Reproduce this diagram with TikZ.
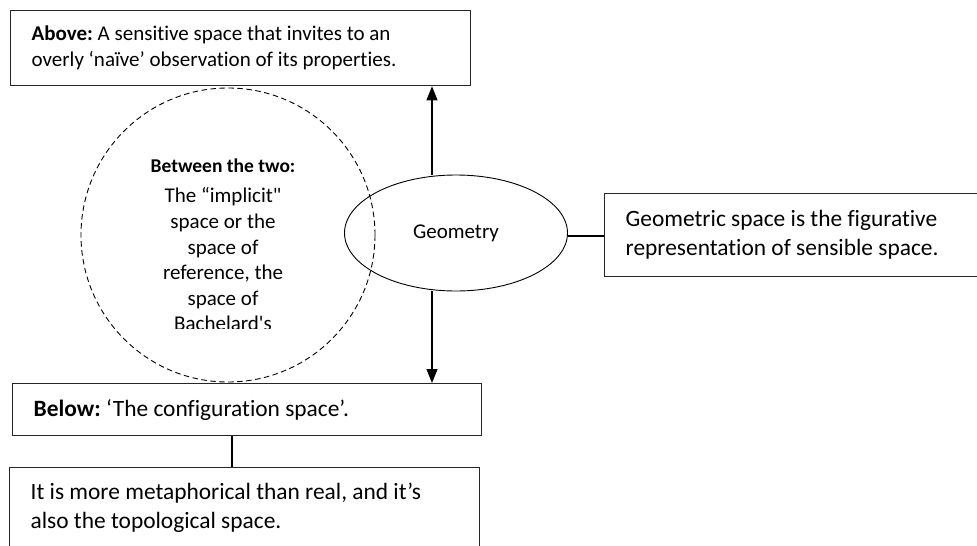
\documentclass[tikz,border=0pt]{standalone}
\usepackage{fontspec}
\setmainfont{Carlito}[Ligatures=NoCommon]
\frenchspacing
\usetikzlibrary{positioning,arrows.meta,shapes.geometric}

\begin{document}
\begin{tikzpicture}[
    x=1pt, y=-1pt,
    font=\fontsize{21}{26}\selectfont,
    note/.style ={draw=black!85, line width=1.3pt, align=flush left, inner xsep=21pt, inner ysep=0pt, anchor=north west},
    bignote/.style ={note, font=\fontsize{23.4}{29}\selectfont},
    orb/.style  ={draw, ellipse, line width=0.9pt, minimum width=223pt, minimum height=116pt, inner sep=0pt},
    halo/.style ={draw, circle, dash pattern=on 5.5pt off 3.5pt, line width=0.9pt, minimum size=294pt, inner sep=0pt},
    up/.style   ={-{Triangle[length=14pt,width=11pt]}, line width=1.2pt},
    tie/.style  ={line width=2pt},
  ]
  \useasboundingbox (0,0) rectangle (977,546);
  % boxes above, right and below
  \node[note, text width=418pt, minimum height=75pt] (above) at (10,10)
    {\textbf{Above:} A sensitive space that invites to an\\overly ‘naïve’ observation of its properties.};
  \node[bignote, text width=334pt, minimum height=83pt] (sense) at (604,193)
    {Geometric space is the figurative\\representation of sensible space.};
  \node[bignote, text width=427pt, minimum height=52pt] (below) at (12,383)
    {\textbf{Below:} ‘The configuration space’.};
  \node[bignote, text width=428pt, minimum height=80pt] (real) at (9,467)
    {It is more metaphorical than real, and it’s\\also the topological space.};
  % dashed circle and its (cut off) text
  \node[halo] (between) at (228,235) {};
  \begin{scope}
    \clip (60,140) rectangle (400,328);
    \node[align=center, anchor=north, font=\fontsize{21}{25.6}\selectfont] (betweentext) at (223,155)
      {{\fontsize{19.5}{24}\selectfont\textbf{Between the two:}}\\[5pt]
       The “implicit\textquotedbl\\space or the\\space of\\reference, the\\space of\\Bachelard\textquotesingle s};
  \end{scope}
  \node[orb] (geo) at (456,233) {Geometry};
  % connectors
  \coordinate (stem) at (432,0);
  \coordinate (drop) at (232,0);
  \draw[up] (geo.north -| stem) -- (above.south -| stem);
  \draw[up] (geo.south -| stem) -- (below.north -| stem);
  \draw[tie] ([yshift=-3pt]geo.east) -- ([yshift=-3pt]geo.east -| sense.west);
  \draw[tie] (below.south -| drop) -- (real.north -| drop);
\end{tikzpicture}
\end{document}
